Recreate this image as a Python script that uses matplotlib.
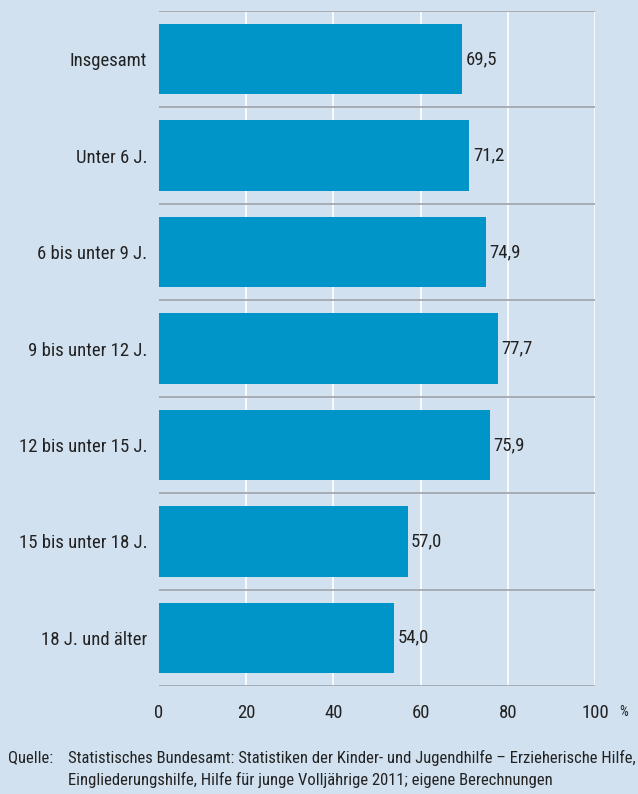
import matplotlib.pyplot as plt
from matplotlib import font_manager

categories = ['Insgesamt', 'Unter 6 J.', '6 bis unter 9 J.', '9 bis unter 12 J.',
              '12 bis unter 15 J.', '15 bis unter 18 J.', '18 J. und älter']
values = [69.5, 71.2, 74.9, 77.7, 75.9, 57.0, 54.0]
ticks = [0, 20, 40, 60, 80, 100]

# condensed font, close to the Helvetica Condensed of the original
names = {f.name for f in font_manager.fontManager.ttflist}
fam = 'DejaVu Sans'
for cand in ['Roboto Condensed', 'Archivo Narrow', 'PT Sans Narrow', 'Liberation Sans Narrow']:
    if cand in names:
        fam = cand
        break
plt.rcParams['font.family'] = [fam, 'DejaVu Sans']

bg = '#d2e1f0'
bar_col = '#0095c8'
txt = '#222222'
fs = 13.5

fig = plt.figure(figsize=(6.38, 7.94), dpi=100, facecolor=bg)
ax = fig.add_axes([159 / 638, 1 - 686 / 794, 436 / 638, 675 / 794])
ax.set_facecolor(bg)

n = len(categories)
ypos = list(range(n))
ax.barh(ypos, values, height=0.73, color=bar_col, zorder=3)
ax.set_ylim(n - 0.5, -0.5)
ax.set_xlim(0, 100)

for x in ticks[1:]:
    ax.axvline(x, color='white', lw=1.2, zorder=1)
for k in range(n + 1):
    ax.axhline(k - 0.5, color='#a3a8ae', lw=1.3, zorder=2)

for y, v in zip(ypos, values):
    ax.text(v + 0.8, y, f'{v:.1f}'.replace('.', ','), va='center', ha='left',
            fontsize=fs, color=txt)

ax.set_yticks(ypos)
ax.set_yticklabels(categories, fontsize=fs, color=txt)
ax.set_xticks(ticks)
ax.set_xticklabels([str(t) for t in ticks], fontsize=fs, color=txt)
ax.tick_params(axis='y', length=0, pad=8.5)
ax.tick_params(axis='x', length=0, pad=13)
for s in ax.spines.values():
    s.set_visible(False)

fig.text(619 / 638, 1 - 712 / 794, '%', fontsize=10, color=txt, va='center', ha='left')

fs_note = 12
fig.text(8 / 638, 1 - 758 / 794, 'Quelle:', fontsize=fs_note, color=txt, va='center')
fig.text(68 / 638, 1 - 758 / 794,
         'Statistisches Bundesamt: Statistiken der Kinder- und Jugendhilfe – Erzieherische Hilfe,',
         fontsize=fs_note, color=txt, va='center')
fig.text(68 / 638, 1 - 780 / 794,
         'Eingliederungshilfe, Hilfe für junge Volljährige 2011; eigene Berechnungen',
         fontsize=fs_note, color=txt, va='center')

fig.savefig('out.png', dpi=100, facecolor=bg)
